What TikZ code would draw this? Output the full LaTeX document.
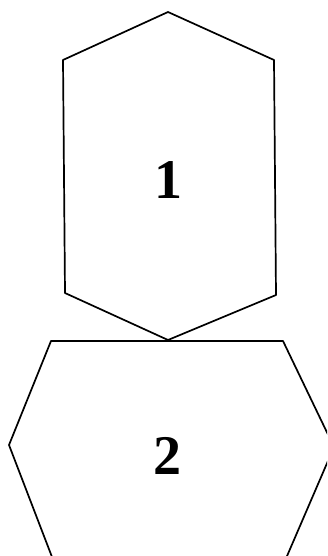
\documentclass[tikz,border=0pt]{standalone}
\usepackage{fontspec}
\setmainfont{Liberation Serif}

\begin{document}
\begin{tikzpicture}[x=1pt, y=-1pt, line join=round, line cap=round]
    \useasboundingbox (0,0) rectangle (327,556);
    \clip (0,0) rectangle (327,556);
    % 六边形 1 的顶点
    \coordinate (T1) at (168,12);
    \coordinate (UL1) at (63,60);
    \coordinate (LL1) at (65,293);
    \coordinate (B1) at (168,340);
    \coordinate (LR1) at (276,295);
    \coordinate (UR1) at (274,60);
    
    % 六边形 2 的顶点（下方超出画面）
    \coordinate (UL2) at (51,341);
    \coordinate (UR2) at (283,341);
    \coordinate (R2) at (334,447);
    \coordinate (LR2) at (281,570);
    \coordinate (LL2) at (57,570);
    \coordinate (L2) at (9,445);
    
    % 轮廓
    \draw[line width=1.7pt] (T1) -- (UL1) -- (LL1) -- (B1) -- (LR1) -- (UR1) -- cycle;
    \draw[line width=1.7pt] (UL2) -- (UR2) -- (R2) -- (LR2) -- (LL2) -- (L2) -- cycle;
    
    % 编号
    \node[font=\bfseries\fontsize{56}{56}\selectfont] (N1) at (168,180) {1};
    \node[font=\bfseries\fontsize{56}{56}\selectfont] (N2) at (167,456) {2};
\end{tikzpicture}
\end{document}
